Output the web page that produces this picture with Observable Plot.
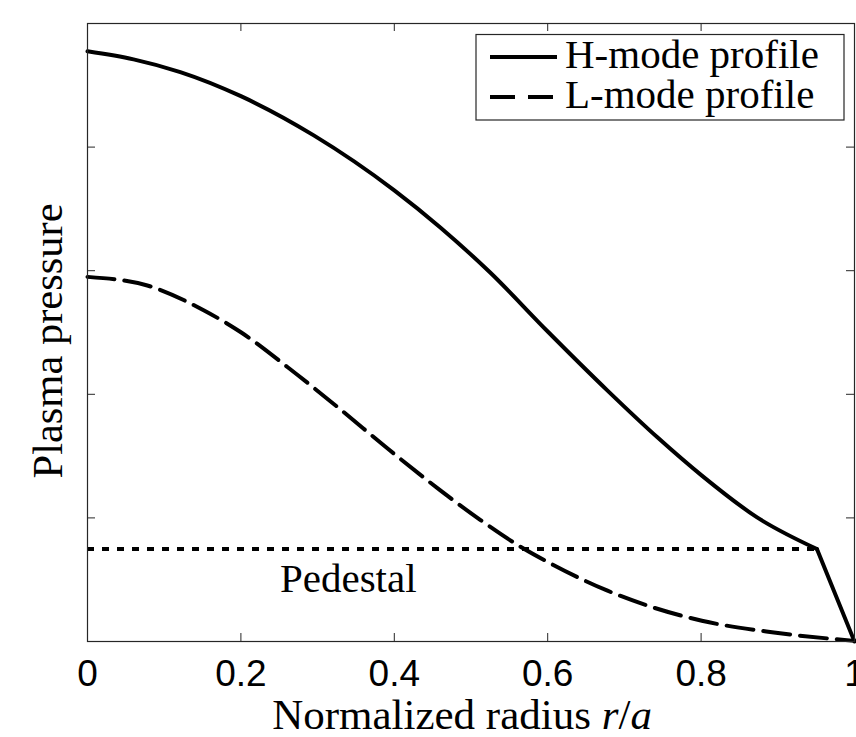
<!DOCTYPE html>
<html><head><meta charset="utf-8">
<script src="https://cdn.jsdelivr.net/npm/d3@7"></script>
<script src="https://cdn.jsdelivr.net/npm/@observablehq/plot@0.6"></script>
<style>
body{margin:0;background:#fff;}
#chart{position:relative;width:856px;height:737px;overflow:hidden;}
</style></head><body><div id="chart"></div>
<script>
// ---- data ----
const hR = [0, 0.06, 0.121, 0.2, 0.295, 0.4, 0.46, 0.525, 0.601, 0.678, 0.743, 0.801, 0.873, 0.951, 1];
const hP = [4.775, 4.71, 4.607, 4.412, 4.095, 3.650, 3.350, 2.985, 2.502, 2.030, 1.652, 1.342, 1.004, 0.748, 0];
const lR = [0, 0.078, 0.152, 0.2, 0.261, 0.321, 0.4, 0.46, 0.512, 0.569, 0.601, 0.678, 0.801, 0.895, 1];
const lP = [2.95, 2.88, 2.678, 2.502, 2.219, 1.922, 1.517, 1.223, 0.984, 0.750, 0.640, 0.411, 0.168, 0.073, 0.005];
const pedestalR = 0.951;
const pedestalP = 0.748;
const pedestalLabelR = 0.34;
const xTicks = [0, 0.2, 0.4, 0.6, 0.8, 1];
const yTicks = [0, 1, 2, 3, 4, 5];
const seriesNames = ["H-mode profile", "L-mode profile"];
const xLabelText = "Normalized radius ";
const yLabelText = "Plasma pressure";
const pedestalLabel = "Pedestal";

// ---- layout ----
const W = 856, H = 737, mL = 87, mR = 2, mT = 23, mB = 96;
const innerW = W - mL - mR, innerH = H - mT - mB;
const axisColor = "#262626";
const serif = "'Liberation Serif', 'DejaVu Serif', serif";
const sans = "'Liberation Sans', Arial, sans-serif";

const hmode = hR.map((r, i) => ({r, p: hP[i]}));
const lmode = lR.map((r, i) => ({r, p: lP[i]}));
const hcore = hmode.filter(d => d.r <= pedestalR);
const hedge = hmode.filter(d => d.r >= pedestalR);

const plot = Plot.plot({
  width: W, height: H,
  marginLeft: mL, marginRight: mR, marginTop: mT, marginBottom: mB,
  style: {background: "transparent", overflow: "visible"},
  x: {domain: [0, 1]},
  y: {domain: [0, 5], axis: null},
  marks: [
    Plot.ruleY([{p: pedestalP, x1: 0, x2: pedestalR}], {y: "p", x1: "x1", x2: "x2", stroke: "black", strokeWidth: 4, strokeDasharray: "7,8"}),
    Plot.line(lmode, {x: "r", y: "p", curve: "monotone-x", stroke: "black", strokeWidth: 4, strokeDasharray: "27,10"}),
    Plot.line(hcore, {x: "r", y: "p", curve: "monotone-x", stroke: "black", strokeWidth: 4}),
    Plot.line(hedge, {x: "r", y: "p", curve: "linear", stroke: "black", strokeWidth: 4}),
    Plot.text([pedestalLabel], {x: () => pedestalLabelR, y: () => pedestalP, text: d => d, lineAnchor: "top", dy: 14,
      fontSize: 41, fontFamily: serif, fill: "black"}),
    Plot.frame({stroke: axisColor, strokeWidth: 1.2}),
    Plot.tickX(xTicks, {x: d => d, insetTop: innerH - 8, stroke: axisColor}),
    Plot.tickX(xTicks, {x: d => d, insetBottom: innerH - 8, stroke: axisColor}),
    Plot.tickY(yTicks, {y: d => d, insetRight: innerW - 8, stroke: axisColor}),
    Plot.tickY(yTicks, {y: d => d, insetLeft: innerW - 8, stroke: axisColor}),
    Plot.axisX(xTicks, {tickSize: 0, tickPadding: 18, fontSize: 37, fontFamily: sans, fill: "black", label: null,
      tickFormat: d => `${d}`})
  ]
});
document.getElementById("chart").appendChild(plot);

// ---- labels & legend ----
const svg = d3.select(plot);
const xl = svg.append("text")
  .attr("x", 462).attr("y", 729)
  .attr("text-anchor", "middle")
  .style("font-family", serif).style("font-size", "43px").attr("fill", "black");
xl.append("tspan").text(xLabelText);
xl.append("tspan").style("font-style", "italic").text("r");
xl.append("tspan").text("/");
xl.append("tspan").style("font-style", "italic").text("a");

svg.append("text")
  .attr("transform", "translate(62,341) rotate(-90)")
  .attr("text-anchor", "middle")
  .style("font-family", serif).style("font-size", "42.5px").attr("fill", "black")
  .text(yLabelText);

const lg = svg.append("g").attr("text-anchor", "start");
lg.append("rect").attr("x", 476).attr("y", 34.5).attr("width", 368).attr("height", 85.5)
  .attr("fill", "white").attr("stroke", axisColor).attr("stroke-width", 1.2);
const dashes = [null, "25,13"];
seriesNames.forEach((name, i) => {
  const yc = 57 + i * 40;
  lg.append("line").attr("x1", 490).attr("x2", 557).attr("y1", yc).attr("y2", yc)
    .attr("stroke", "black").attr("stroke-width", 4).attr("stroke-dasharray", dashes[i]);
  lg.append("text").attr("x", 565).attr("y", 68 + i * 40).attr("text-anchor", "start")
    .style("font-family", serif).style("font-size", "41px").attr("fill", "black").text(name);
});
</script></body></html>
